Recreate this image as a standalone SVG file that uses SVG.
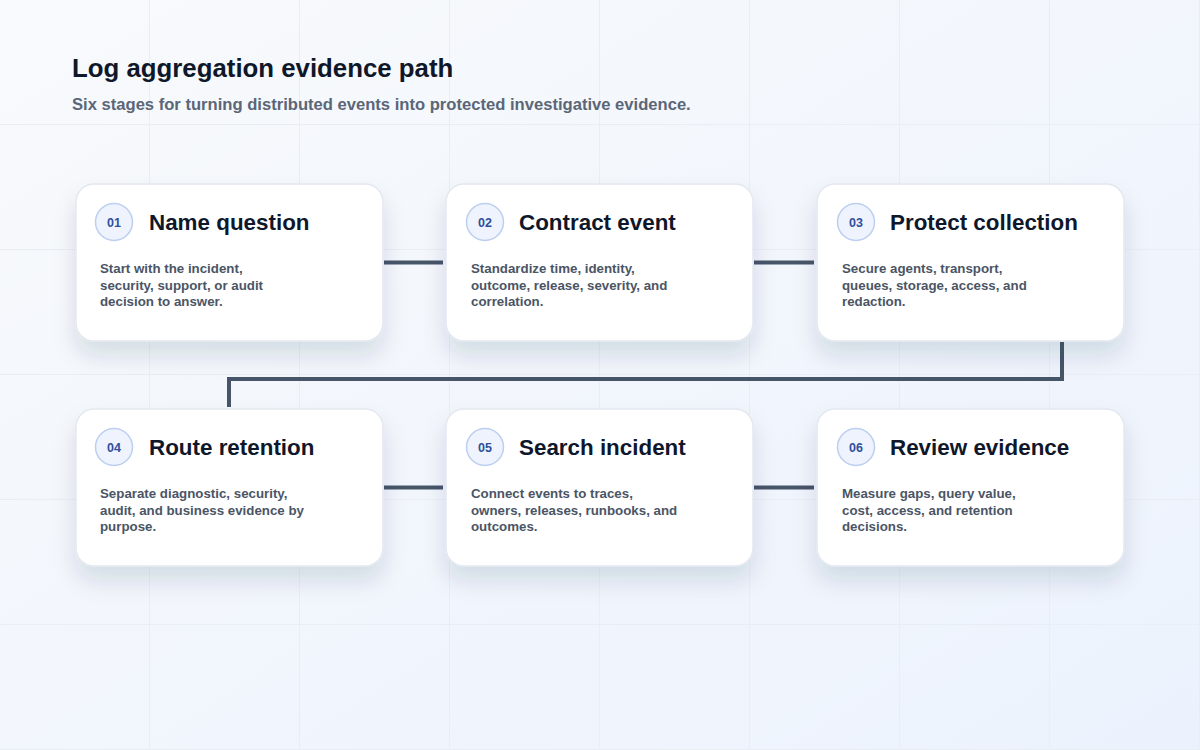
<svg xmlns="http://www.w3.org/2000/svg" width="1200" height="750" viewBox="0 0 1200 750">
  <defs>
    <linearGradient id="bg" x1="0" y1="0" x2="1" y2="1">
      <stop offset="0" stop-color="#f8fafc"/>
      <stop offset="1" stop-color="#ecf2fd"/>
    </linearGradient>
    <pattern id="grid" x="0" y="0" width="150" height="125" patternUnits="userSpaceOnUse">
      <path d="M149.5 0 V125 M0 124.5 H150" fill="none" stroke="#e9eef5" stroke-width="1"/>
    </pattern>
    <filter id="shadow" x="-20%" y="-20%" width="140%" height="170%">
      <feDropShadow dx="0" dy="14" stdDeviation="11" flood-color="#1e2a4a" flood-opacity="0.13"/>
    </filter>
  </defs>
  <style>
    .card { fill: #ffffff; stroke: #e3e8f0; stroke-width: 1.5; filter: url(#shadow); }
    .badge { fill: #eef3fd; stroke: #bccff0; stroke-width: 1.5; }
    .num { font-family: "Liberation Sans", Arial, sans-serif; font-size: 12.5px; font-weight: 700; fill: #2f4f9e; text-anchor: middle; }
    .ttl { font-family: "Liberation Sans", Arial, sans-serif; font-size: 22.4px; font-weight: 700; fill: #0f172a; }
    .desc { font-family: "Liberation Sans", Arial, sans-serif; font-size: 13.3px; font-weight: 700; fill: #4b5565; }
    .conn { fill: none; stroke: #475569; stroke-width: 4; }
  </style>
  <rect width="1200" height="750" fill="url(#bg)"/>
  <rect width="1200" height="750" fill="url(#grid)"/>

  <text x="72" y="77" font-family="Liberation Sans, Arial, sans-serif" font-size="25.8" font-weight="700" fill="#0f172a">Log aggregation evidence path</text>
  <text x="72" y="110" font-family="Liberation Sans, Arial, sans-serif" font-size="16.6" font-weight="700" fill="#5b6678">Six stages for turning distributed events into protected investigative evidence.</text>

  <g id="connectors">
    <path class="conn" d="M384 262.5 H443"/>
    <path class="conn" d="M754 262.5 H814"/>
    <path class="conn" d="M1062 342 V379 H229 V407"/>
    <path class="conn" d="M384 487.5 H443"/>
    <path class="conn" d="M754 487.5 H814"/>
  </g>

  <g id="node-01">
    <rect class="card" x="76" y="184" width="307" height="157" rx="18"/>
    <circle class="badge" cx="114" cy="222" r="18.5"/>
    <text class="num" x="114" y="226.5">01</text>
    <text class="ttl" x="149" y="229.5">Name question</text>
    <text class="desc" x="100" y="273">Start with the incident,</text>
    <text class="desc" x="100" y="289.5">security, support, or audit</text>
    <text class="desc" x="100" y="306">decision to answer.</text>
  </g>

  <g id="node-02">
    <rect class="card" x="446" y="184" width="307" height="157" rx="18"/>
    <circle class="badge" cx="485" cy="222" r="18.5"/>
    <text class="num" x="485" y="226.5">02</text>
    <text class="ttl" x="519" y="229.5">Contract event</text>
    <text class="desc" x="471" y="273">Standardize time, identity,</text>
    <text class="desc" x="471" y="289.5">outcome, release, severity, and</text>
    <text class="desc" x="471" y="306">correlation.</text>
  </g>

  <g id="node-03">
    <rect class="card" x="817" y="184" width="307" height="157" rx="18"/>
    <circle class="badge" cx="856" cy="222" r="18.5"/>
    <text class="num" x="856" y="226.5">03</text>
    <text class="ttl" x="890" y="229.5">Protect collection</text>
    <text class="desc" x="842" y="273">Secure agents, transport,</text>
    <text class="desc" x="842" y="289.5">queues, storage, access, and</text>
    <text class="desc" x="842" y="306">redaction.</text>
  </g>

  <g id="node-04">
    <rect class="card" x="76" y="409" width="307" height="157" rx="18"/>
    <circle class="badge" cx="114" cy="447" r="18.5"/>
    <text class="num" x="114" y="451.5">04</text>
    <text class="ttl" x="149" y="454.5">Route retention</text>
    <text class="desc" x="100" y="498">Separate diagnostic, security,</text>
    <text class="desc" x="100" y="514.5">audit, and business evidence by</text>
    <text class="desc" x="100" y="531">purpose.</text>
  </g>

  <g id="node-05">
    <rect class="card" x="446" y="409" width="307" height="157" rx="18"/>
    <circle class="badge" cx="485" cy="447" r="18.5"/>
    <text class="num" x="485" y="451.5">05</text>
    <text class="ttl" x="519" y="454.5">Search incident</text>
    <text class="desc" x="471" y="498">Connect events to traces,</text>
    <text class="desc" x="471" y="514.5">owners, releases, runbooks, and</text>
    <text class="desc" x="471" y="531">outcomes.</text>
  </g>

  <g id="node-06">
    <rect class="card" x="817" y="409" width="307" height="157" rx="18"/>
    <circle class="badge" cx="856" cy="447" r="18.5"/>
    <text class="num" x="856" y="451.5">06</text>
    <text class="ttl" x="890" y="454.5">Review evidence</text>
    <text class="desc" x="842" y="498">Measure gaps, query value,</text>
    <text class="desc" x="842" y="514.5">cost, access, and retention</text>
    <text class="desc" x="842" y="531">decisions.</text>
  </g>
</svg>
